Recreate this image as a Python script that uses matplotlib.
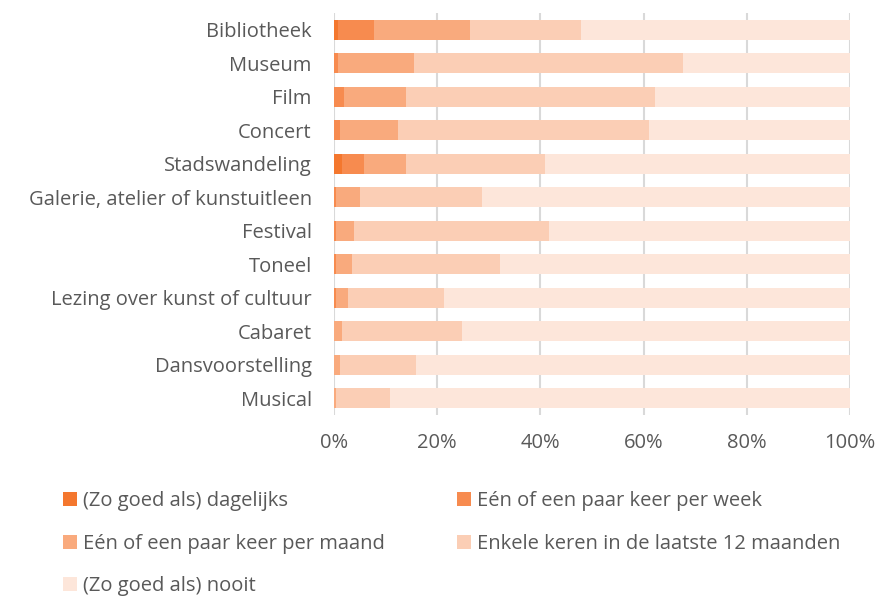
import matplotlib
matplotlib.use("Agg")
import matplotlib.pyplot as plt
from matplotlib.patches import Patch
from matplotlib.ticker import FuncFormatter

categories = ["Bibliotheek", "Museum", "Film", "Concert", "Stadswandeling",
              "Galerie, atelier of kunstuitleen", "Festival", "Toneel",
              "Lezing over kunst of cultuur", "Cabaret", "Dansvoorstelling", "Musical"]
series_names = ["(Zo goed als) dagelijks", "Eén of een paar keer per week",
                "Eén of een paar keer per maand", "Enkele keren in de laatste 12 maanden",
                "(Zo goed als) nooit"]
dagelijks = [0.8, 0.0, 0.0, 0.0, 1.5, 0.0, 0.0, 0.0, 0.0, 0.0, 0.0, 0.0]
week      = [7.0, 0.8, 1.9, 1.2, 4.3, 0.4, 0.4, 0.4, 0.4, 0.0, 0.0, 0.0]
maand     = [18.5, 14.7, 12.1, 11.2, 8.2, 4.6, 3.5, 3.1, 2.3, 1.5, 1.1, 0.4]
enkele    = [21.6, 52.1, 48.2, 48.6, 26.9, 23.7, 37.8, 28.7, 18.6, 23.3, 14.8, 10.4]
nooit = [100 - a - b - c - d for a, b, c, d in zip(dagelijks, week, maand, enkele)]
colors = ["#F4772E", "#F78B4F", "#F9AA7D", "#FBCEB5", "#FDE6DA"]

plt.rcParams['font.family'] = ['Open Sans', 'DejaVu Sans']
FS = 14.5
fig = plt.figure(figsize=(8.81, 5.97), dpi=100)
ax = fig.add_axes([334/881, 1 - 415/597, 516/881, 402/597])

y = list(range(len(categories)))
left = [0.0] * len(categories)
for vals, col in zip([dagelijks, week, maand, enkele, nooit], colors):
    ax.barh(y, vals, left=left, height=0.6, color=col, zorder=3)
    left = [l + v for l, v in zip(left, vals)]

ax.set_xlim(0, 100)
ax.set_ylim(len(categories) - 0.5, -0.5)
ax.set_yticks(y)
ax.set_yticklabels(categories)
ax.set_xticks([0, 20, 40, 60, 80, 100])
ax.xaxis.set_major_formatter(FuncFormatter(lambda v, p: f"{int(v)}%"))
ax.grid(axis='x', color='#D9D9D9', linewidth=1.5, zorder=0)
for s in ax.spines.values():
    s.set_visible(False)
ax.tick_params(axis='both', length=0, labelsize=FS, colors='#595959')
ax.tick_params(axis='x', pad=13)
ax.tick_params(axis='y', pad=16)

handles = [Patch(facecolor=c) for c in colors]
order = [0, 2, 4, 1, 3]
fig.legend([handles[i] for i in order], [series_names[i] for i in order],
           ncol=2, loc='upper left', bbox_to_anchor=(55/881, 1 - 483/597),
           frameon=False, fontsize=FS, labelcolor='#595959',
           handlelength=0.7, handleheight=0.7, handletextpad=0.3,
           labelspacing=1.12, columnspacing=3.55, borderaxespad=0)

fig.savefig("out.png", dpi=100)
